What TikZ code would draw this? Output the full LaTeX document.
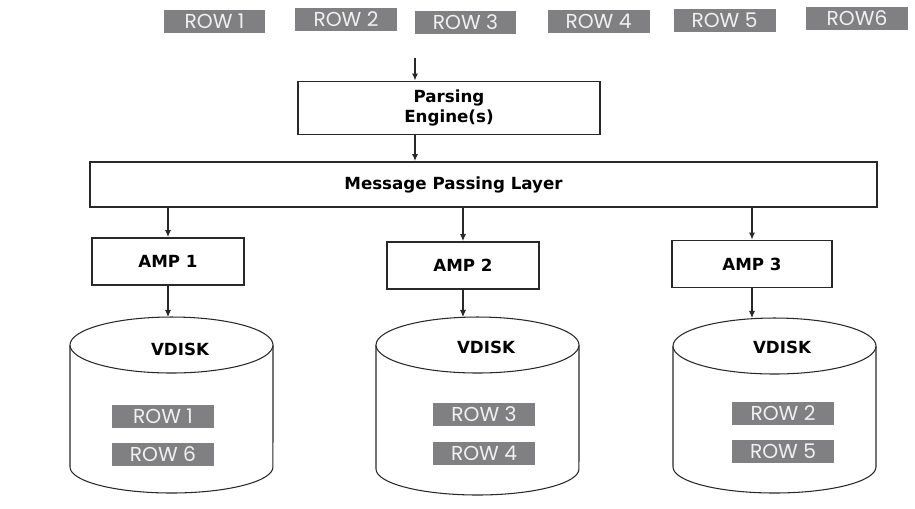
\documentclass[tikz,border=0pt]{standalone}
\usepackage{fontspec}
\setmainfont{DejaVu Sans}
\newfontfamily\rowfont{Poppins}
\usetikzlibrary{arrows.meta}

\definecolor{rowgray}{RGB}{128,128,130}
\definecolor{rowtext}{RGB}{240,240,240}
\definecolor{linegray}{RGB}{40,40,40}

\tikzset{
  rowtag/.style={fill=rowgray, text=rowtext, inner sep=0pt,
    minimum width=2.04cm, minimum height=0.46cm, font=\rowfont\fontsize{11.5}{13}\selectfont},
  layerbox/.style={draw=linegray, line width=1.1pt, fill=white, inner sep=2pt,
    font=\bfseries\fontsize{9.5}{11.5}\selectfont},
  disk/.style={draw=linegray, line width=0.6pt, fill=white},
  thinarrow/.style={draw=linegray, line width=0.6pt, -{Latex[length=4pt,width=3.5pt]}},
  mainarrow/.style={draw=linegray, line width=1.1pt, -{Latex[length=4pt,width=3.5pt]}}
}

\begin{document}
\begin{tikzpicture}[x=0.02cm, y=-0.02cm]
    \useasboundingbox (0,0) rectangle (915,508);

    % Rows coming in
    \node[rowtag] (r1) at (214.5,21) {ROW 1};
    \node[rowtag] (r2) at (346,19) {ROW 2};
    \node[rowtag] (r3) at (465.5,22.5) {ROW 3};
    \node[rowtag] (r4) at (598.5,21.5) {ROW 4};
    \node[rowtag] (r5) at (724.5,20) {ROW 5};
    \node[rowtag] (r6) at (857,18.5) {ROW6};

    % Parsing engine and message passing layer
    \coordinate (entry) at (415,58);
    \node[layerbox, align=center, minimum width=6.04cm, minimum height=1.06cm] (pe) at (449,108) {Parsing\\Engine(s)};
    \node[layerbox, minimum width=15.74cm, minimum height=0.9cm,
      label={[xshift=-0.6cm, font=\bfseries\fontsize{9.5}{11.5}\selectfont]center:Message Passing Layer}] (mpl) at (483.5,184.5) {};
    \draw[mainarrow] (entry) -- (pe.north -| entry);
    \draw[mainarrow] (pe.south -| entry) -- (mpl.north -| entry);

    % AMPs
    \node[layerbox, minimum width=3.04cm, minimum height=0.94cm] (amp1) at (168,261.5) {AMP 1};
    \node[layerbox, minimum width=3.04cm, minimum height=0.94cm] (amp2) at (463,265.5) {AMP 2};
    \node[layerbox, minimum width=3.2cm, minimum height=0.94cm] (amp3) at (752,264) {AMP 3};
    \draw[thinarrow] (mpl.south -| amp1) -- (amp1);
    \draw[thinarrow] (mpl.south -| amp2) -- (amp2);
    \draw[thinarrow] (mpl.south -| amp3) -- (amp3);

    % Vdisks
    \draw[disk] (70,345) -- (70,467) arc[start angle=180, end angle=360, x radius=2.03cm, y radius=0.52cm] -- (273,345);
    \draw[disk] (171.5,345) ellipse [x radius=2.03cm, y radius=0.56cm];
    \coordinate (d1) at (171.5,317);
    \draw[disk] (376,345) -- (376,469) arc[start angle=180, end angle=360, x radius=2.03cm, y radius=0.52cm] -- (579,345);
    \draw[disk] (477.5,345) ellipse [x radius=2.03cm, y radius=0.56cm];
    \coordinate (d2) at (477.5,317);
    \draw[disk] (673,346) -- (673,467) arc[start angle=180, end angle=360, x radius=2.03cm, y radius=0.52cm] -- (876,346);
    \draw[disk] (774.5,346) ellipse [x radius=2.03cm, y radius=0.56cm];
    \coordinate (d3) at (774.5,318);
    \draw[thinarrow] (amp1) -- (amp1 |- d1);
    \draw[thinarrow] (amp2) -- (amp2 |- d2);
    \draw[thinarrow] (amp3) -- (amp3 |- d3);

    % Disk contents
    \node[font=\bfseries\fontsize{9.5}{11.5}\selectfont] (v1) at (180,349) {VDISK};
    \node[font=\bfseries\fontsize{9.5}{11.5}\selectfont] (v2) at (486,347) {VDISK};
    \node[font=\bfseries\fontsize{9.5}{11.5}\selectfont] (v3) at (782,347) {VDISK};
    \node[rowtag] (d1r1) at (163,416) {ROW 1};
    \node[rowtag] (d1r6) at (163,454.5) {ROW 6};
    \node[rowtag] (d2r3) at (484,414.5) {ROW 3};
    \node[rowtag] (d2r4) at (484,453) {ROW 4};
    \node[rowtag] (d3r2) at (783,413) {ROW 2};
    \node[rowtag] (d3r5) at (783,451.5) {ROW 5};
\end{tikzpicture}
\end{document}
